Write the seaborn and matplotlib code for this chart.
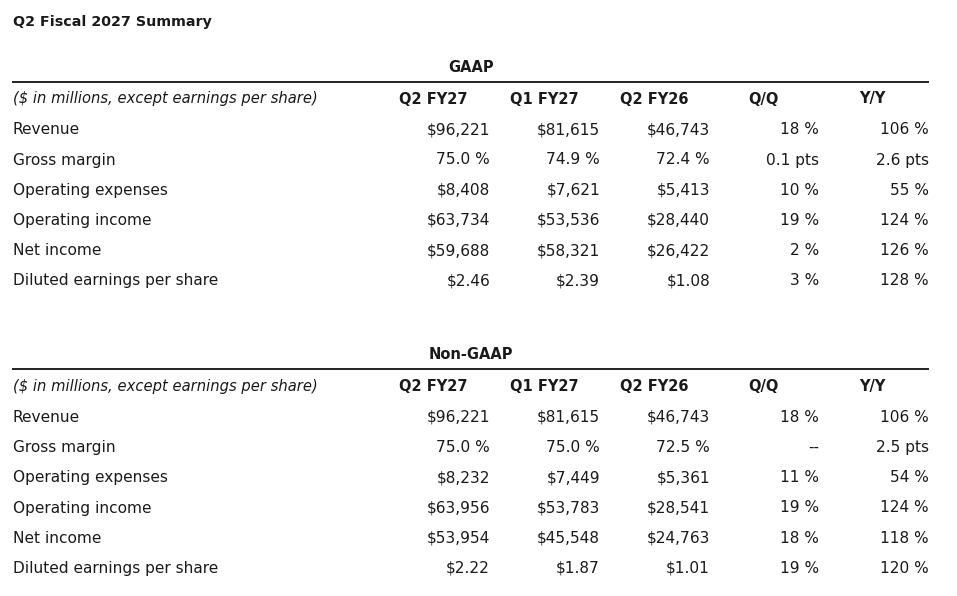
import matplotlib
matplotlib.use("Agg")
import matplotlib.pyplot as plt
import seaborn as sns
import pandas as pd

title = "Q2 Fiscal 2027 Summary"
unit_label = "($ in millions, except earnings per share)"
columns = ["Q2 FY27", "Q1 FY27", "Q2 FY26", "Q/Q", "Y/Y"]
rows = ["Revenue", "Gross margin", "Operating expenses", "Operating income",
        "Net income", "Diluted earnings per share"]

gaap_q2fy27 = ["$96,221", "75.0 %", "$8,408", "$63,734", "$59,688", "$2.46"]
gaap_q1fy27 = ["$81,615", "74.9 %", "$7,621", "$53,536", "$58,321", "$2.39"]
gaap_q2fy26 = ["$46,743", "72.4 %", "$5,413", "$28,440", "$26,422", "$1.08"]
gaap_qq = ["18 %", "0.1 pts", "10 %", "19 %", "2 %", "3 %"]
gaap_yy = ["106 %", "2.6 pts", "55 %", "124 %", "126 %", "128 %"]

nongaap_q2fy27 = ["$96,221", "75.0 %", "$8,232", "$63,956", "$53,954", "$2.22"]
nongaap_q1fy27 = ["$81,615", "75.0 %", "$7,449", "$53,783", "$45,548", "$1.87"]
nongaap_q2fy26 = ["$46,743", "72.5 %", "$5,361", "$28,541", "$24,763", "$1.01"]
nongaap_qq = ["18 %", "--", "11 %", "19 %", "18 %", "19 %"]
nongaap_yy = ["106 %", "2.5 pts", "54 %", "124 %", "118 %", "120 %"]

gaap = pd.DataFrame(dict(zip(columns, [gaap_q2fy27, gaap_q1fy27, gaap_q2fy26, gaap_qq, gaap_yy])), index=rows)
nongaap = pd.DataFrame(dict(zip(columns, [nongaap_q2fy27, nongaap_q1fy27, nongaap_q2fy26, nongaap_qq, nongaap_yy])), index=rows)

sns.set_theme(style="white")
plt.rcParams["font.family"] = ["DejaVu Sans"]

W, H = 957, 596
fig = plt.figure(figsize=(W / 100, H / 100), dpi=100)
ax = fig.add_axes([0, 0, 1, 1])
ax.set_xlim(0, W)
ax.set_ylim(H, 0)
ax.axis("off")

txt = "#1a1a1a"
fs = 11.1
fs_ital = 10.6
fs_bold = 10.5
head_left = [399, 510, 620, 748, 859]
val_right = [490, 600, 710, 819, 929]
row_h = 30.2

ax.text(13, 26.3, title, fontsize=10.3, fontweight="bold",
        color=txt, va="baseline", ha="left")

def draw_block(df, name, y0):
    ax.text(471, y0 + 71.8, name, fontsize=fs_bold, fontweight="bold",
            color=txt, va="baseline", ha="center")
    y_line = y0 + 81.5
    ax.plot([12, 929], [y_line, y_line], color="black", lw=1.2, solid_capstyle="butt")
    y_head = y0 + 103.5
    ax.text(13, y_head, unit_label, fontsize=fs_ital, style="italic", color=txt,
            va="baseline", ha="left")
    for c, x in zip(df.columns, head_left):
        ax.text(x, y_head, c, fontsize=fs_bold, fontweight="bold",
                color=txt, va="baseline", ha="left")
    for i, r in enumerate(df.index):
        y = y0 + 134.3 + i * row_h
        ax.text(13, y, r, fontsize=fs, color=txt, va="baseline", ha="left")
        for c, x in zip(df.columns, val_right):
            ax.text(x, y, df.loc[r, c], fontsize=fs, color=txt, va="baseline", ha="right")

draw_block(gaap, "GAAP", 0)
draw_block(nongaap, "Non-GAAP", 287.6)

fig.savefig("out.png", dpi=100)
